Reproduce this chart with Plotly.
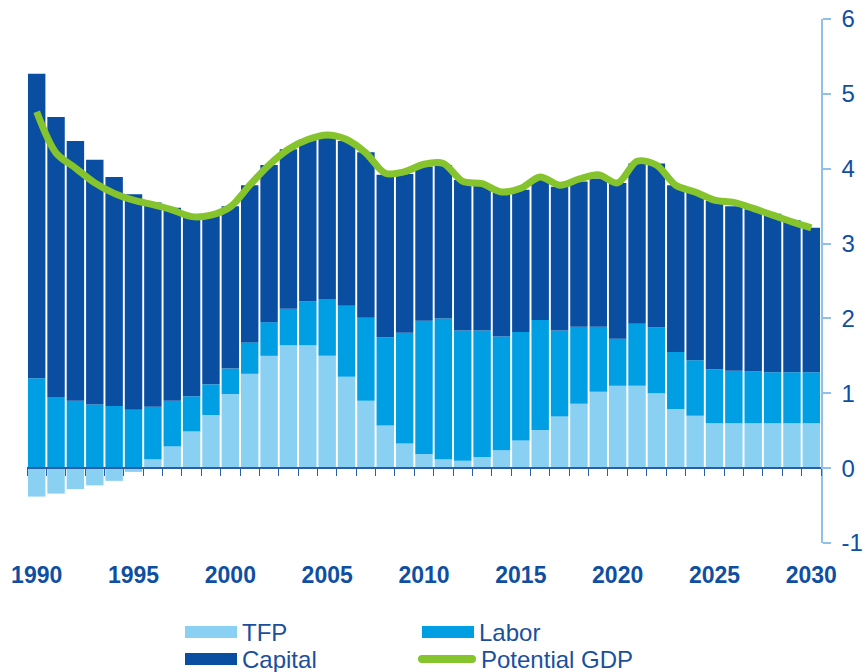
import plotly.graph_objects as go

years = list(range(1990, 2031))

tfp = [-0.38, -0.34, -0.28, -0.23, -0.17, -0.05, 0.12, 0.29, 0.49, 0.71,
       0.99, 1.26, 1.50, 1.64, 1.64, 1.50, 1.22, 0.90, 0.57, 0.33,
       0.19, 0.12, 0.10, 0.15, 0.24, 0.37, 0.51, 0.69, 0.86, 1.02,
       1.10, 1.10, 1.00, 0.79, 0.70, 0.60, 0.60, 0.60, 0.60, 0.60, 0.60]

labor = [1.20, 0.95, 0.90, 0.85, 0.83, 0.78, 0.70, 0.61, 0.47, 0.41,
         0.34, 0.42, 0.45, 0.49, 0.59, 0.76, 0.95, 1.11, 1.18, 1.48,
         1.78, 1.88, 1.74, 1.69, 1.52, 1.45, 1.47, 1.15, 1.03, 0.87,
         0.63, 0.83, 0.88, 0.76, 0.74, 0.72, 0.70, 0.69, 0.68, 0.68, 0.68]

capital = [4.07, 3.74, 3.47, 3.27, 3.06, 2.88, 2.73, 2.58, 2.40, 2.26,
           2.17, 2.10, 2.10, 2.13, 2.16, 2.17, 2.20, 2.21, 2.17, 2.12,
           2.06, 2.05, 2.01, 1.94, 1.92, 1.90, 1.87, 1.92, 1.94, 1.98,
           2.08, 2.14, 2.19, 2.23, 2.24, 2.25, 2.20, 2.17, 2.12, 2.03, 1.93]

potential_gdp = [4.76, 4.21, 4.01, 3.81, 3.67, 3.58, 3.52, 3.45, 3.36, 3.38,
                 3.49, 3.78, 4.05, 4.26, 4.39, 4.45, 4.39, 4.21, 3.94, 3.96,
                 4.06, 4.07, 3.83, 3.80, 3.69, 3.74, 3.89, 3.78, 3.86, 3.92,
                 3.81, 4.10, 4.05, 3.78, 3.69, 3.58, 3.55, 3.47, 3.38, 3.29, 3.21]

year_ticks = list(range(1990, 2031, 5))
y_ticks = [-1, 0, 1, 2, 3, 4, 5, 6]
y_tick_text = ["-1", "0", "1", "2", "3", "4", "5", "6"]

C_TFP = "#8ad0f2"
C_LAB = "#009fe3"
C_CAP = "#0a4ea2"
C_GDP = "#85c42c"
C_TXT = "#0f4fa3"
C_AX = "#8fc0ea"
C_ZERO = "#2b5ea8"
FONT = "Liberation Sans, Arial, sans-serif"

W, H = 863, 672
ML, MR, MT, MB = 27, 42, 19, 129
PW, PH = W - ML - MR, H - MT - MB


def px(xp):
    return (xp - ML) / PW


def py(yp):
    return (H - MB - yp) / PH


fig = go.Figure()
for name, vals, col in [("TFP", tfp, C_TFP), ("Labor", labor, C_LAB), ("Capital", capital, C_CAP)]:
    fig.add_trace(go.Bar(x=years, y=vals, name=name, marker=dict(color=col, line=dict(width=0)),
                         showlegend=False))
fig.add_trace(go.Scatter(x=years, y=potential_gdp, name="Potential GDP", mode="lines",
                         line=dict(color=C_GDP, width=7, shape="spline", smoothing=0.9),
                         showlegend=False))
# invisible trace to hold the zero-line axis
fig.add_trace(go.Scatter(x=[years[0]], y=[0], xaxis="x2", mode="markers",
                         marker=dict(opacity=0), showlegend=False, hoverinfo="skip"))

boundaries = [y - 0.5 for y in years] + [years[-1] + 0.5]
yr = [y_ticks[0], y_ticks[-1]]

fig.update_layout(
    template="none",
    width=W, height=H,
    margin=dict(l=ML, r=MR, t=MT, b=MB, autoexpand=False),
    paper_bgcolor="white", plot_bgcolor="white",
    barmode="relative", bargap=0.1,
    font=dict(family=FONT, color=C_TXT),
    xaxis=dict(range=[boundaries[0], boundaries[-1]], tickvals=year_ticks,
               ticktext=[str(v) for v in year_ticks], automargin=False,
               tickfont=dict(family=FONT, size=23, color=C_TXT, weight="bold"),
               showline=False, showgrid=False, zeroline=False, ticks="",
               ticklabelstandoff=16),
    xaxis2=dict(range=[boundaries[0], boundaries[-1]], overlaying="x", anchor="free",
                position=(0 - yr[0]) / (yr[1] - yr[0]), side="bottom", automargin=False,
                tickvals=boundaries, showticklabels=False, ticks="outside", ticklen=7,
                tickwidth=1.2, tickcolor=C_ZERO, showline=True, linecolor=C_ZERO,
                linewidth=1.5, showgrid=False, zeroline=False),
    yaxis=dict(range=yr, side="right", tickvals=y_ticks, ticktext=y_tick_text,
               showgrid=False, zeroline=False, automargin=False,
               showline=True, linecolor=C_AX, linewidth=1.5, ticks="outside", ticklen=8,
               tickcolor=C_AX, tickwidth=1.5, tickfont=dict(family=FONT, size=24, color=C_TXT),
               ticklabelstandoff=6),
)

# custom legend
legend_items = [
    ("TFP", "bar", C_TFP, 185, 237, 632),
    ("Labor", "bar", C_LAB, 422, 474, 632),
    ("Capital", "bar", C_CAP, 185, 237, 659),
    ("Potential GDP", "line", C_GDP, 418, 476, 659),
]
for label, kind, col, x0, x1, yc in legend_items:
    if kind == "bar":
        fig.add_shape(type="rect", xref="paper", yref="paper", x0=px(x0), x1=px(x1),
                      y0=py(yc - 6), y1=py(yc + 6), fillcolor=col, line=dict(width=0))
    else:
        fig.add_shape(type="rect", xref="paper", yref="paper", x0=px(x0 + 4), x1=px(x1 - 4),
                      y0=py(yc - 4), y1=py(yc + 4), fillcolor=col, line=dict(width=0))
        for xe in (x0 + 4, x1 - 4):
            fig.add_shape(type="circle", xref="paper", yref="paper", xsizemode="pixel",
                          ysizemode="pixel", xanchor=px(xe), yanchor=py(yc),
                          x0=-4, x1=4, y0=-4, y1=4, fillcolor=col, line=dict(width=0))
    fig.add_annotation(xref="paper", yref="paper", x=px(x1 + 3), y=py(yc), text=label,
                       showarrow=False, xanchor="left", yanchor="middle",
                       font=dict(family=FONT, size=24, color="#1b4f9e"))

fig.write_html("out.html", config={"displayModeBar": False},
               post_script="document.body.style.margin='0';document.body.style.padding='0';"
                           "document.body.style.overflow='hidden';")
